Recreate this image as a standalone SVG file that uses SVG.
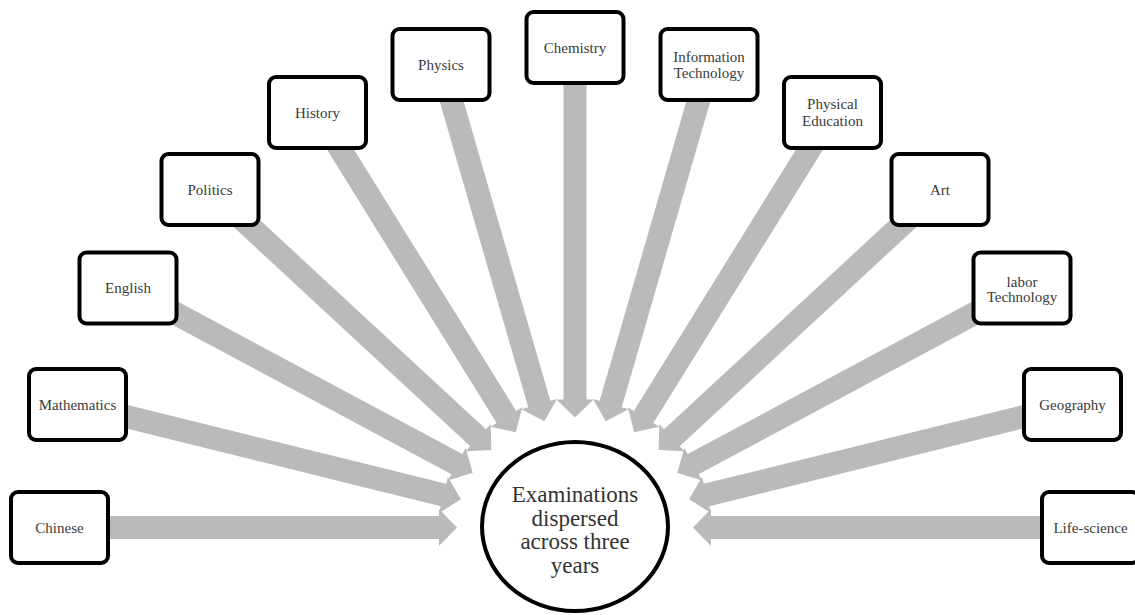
<svg xmlns="http://www.w3.org/2000/svg" width="1135" height="615" viewBox="0 0 1135 615">
  <style>
    .arrow { fill: #bababa; }
    .box { fill: #ffffff; stroke: #000000; stroke-width: 4; }
    .lbl { font-family: 'Liberation Serif', 'Times New Roman', Times, 'DejaVu Serif', serif; font-size: 15px; fill: #3a3a3a; text-anchor: middle; }
    .hub { fill: #ffffff; stroke: #000000; stroke-width: 4; }
    .hubtxt { font-family: 'Liberation Serif', 'Times New Roman', Times, 'DejaVu Serif', serif; font-size: 23px; fill: #333333; text-anchor: middle; }
  </style>
  <rect width="1135" height="615" fill="#ffffff"/>

  <!-- block arrows from each subject toward the centre -->
  <g id="connectors">
    <polygon class="arrow" transform="translate(59.5,527.5) rotate(0)" points="0,-11.5 379.5,-11.5 379.5,-18.5 397.5,0 379.5,18.5 379.5,11.5 0,11.5"/>
    <polygon class="arrow" transform="translate(77.5,404.5) rotate(13.89)" points="0,-11.5 377,-11.5 377,-18.5 395,0 377,18.5 377,11.5 0,11.5"/>
    <polygon class="arrow" transform="translate(128,288) rotate(28.18)" points="0,-11.5 373.1,-11.5 373.1,-18.5 391.1,0 373.1,18.5 373.1,11.5 0,11.5"/>
    <polygon class="arrow" transform="translate(210,189.5) rotate(42.8)" points="0,-11.5 365.4,-11.5 365.4,-18.5 383.4,0 365.4,18.5 365.4,11.5 0,11.5"/>
    <polygon class="arrow" transform="translate(317.5,112.5) rotate(58.18)" points="0,-11.5 358.3,-11.5 358.3,-18.5 376.3,0 358.3,18.5 358.3,11.5 0,11.5"/>
    <polygon class="arrow" transform="translate(441,64.5) rotate(73.86)" points="0,-11.5 353.5,-11.5 353.5,-18.5 371.5,0 353.5,18.5 353.5,11.5 0,11.5"/>
    <polygon class="arrow" transform="translate(575,47.5) rotate(90)" points="0,-11.5 352,-11.5 352,-18.5 370,0 352,18.5 352,11.5 0,11.5"/>
    <polygon class="arrow" transform="translate(709,64.5) rotate(106.14)" points="0,-11.5 353.5,-11.5 353.5,-18.5 371.5,0 353.5,18.5 353.5,11.5 0,11.5"/>
    <polygon class="arrow" transform="translate(832.5,112.5) rotate(121.82)" points="0,-11.5 358.3,-11.5 358.3,-18.5 376.3,0 358.3,18.5 358.3,11.5 0,11.5"/>
    <polygon class="arrow" transform="translate(940,189.5) rotate(137.2)" points="0,-11.5 365.4,-11.5 365.4,-18.5 383.4,0 365.4,18.5 365.4,11.5 0,11.5"/>
    <polygon class="arrow" transform="translate(1022,288) rotate(151.82)" points="0,-11.5 373.1,-11.5 373.1,-18.5 391.1,0 373.1,18.5 373.1,11.5 0,11.5"/>
    <polygon class="arrow" transform="translate(1072.5,404.5) rotate(166.11)" points="0,-11.5 377,-11.5 377,-18.5 395,0 377,18.5 377,11.5 0,11.5"/>
    <polygon class="arrow" transform="translate(1090.5,527.5) rotate(180)" points="0,-11.5 379.5,-11.5 379.5,-18.5 397.5,0 379.5,18.5 379.5,11.5 0,11.5"/>
  </g>

  <!-- central hub -->
  <g id="hub">
    <ellipse class="hub" cx="575" cy="526.5" rx="93" ry="84.5"/>
    <text class="hubtxt" x="575" y="502">Examinations</text>
    <text class="hubtxt" x="575" y="525.5">dispersed</text>
    <text class="hubtxt" x="575" y="549">across three</text>
    <text class="hubtxt" x="575" y="572.5">years</text>
  </g>

  <!-- subject boxes (101 x 75 outer) -->
  <g id="chinese">
    <rect class="box" x="11" y="492" width="97" height="71" rx="7"/>
    <text class="lbl" x="59.5" y="532.5">Chinese</text>
  </g>
  <g id="mathematics">
    <rect class="box" x="29" y="369" width="97" height="71" rx="7"/>
    <text class="lbl" x="77.5" y="409.5">Mathematics</text>
  </g>
  <g id="english">
    <rect class="box" x="79.5" y="252.5" width="97" height="71" rx="7"/>
    <text class="lbl" x="128" y="293">English</text>
  </g>
  <g id="politics">
    <rect class="box" x="161.5" y="154" width="97" height="71" rx="7"/>
    <text class="lbl" x="210" y="194.5">Politics</text>
  </g>
  <g id="history">
    <rect class="box" x="269" y="77" width="97" height="71" rx="7"/>
    <text class="lbl" x="317.5" y="117.5">History</text>
  </g>
  <g id="physics">
    <rect class="box" x="392.5" y="29" width="97" height="71" rx="7"/>
    <text class="lbl" x="441" y="69.5">Physics</text>
  </g>
  <g id="chemistry">
    <rect class="box" x="526.5" y="12" width="97" height="71" rx="7"/>
    <text class="lbl" x="575" y="52.5">Chemistry</text>
  </g>
  <g id="information-technology">
    <rect class="box" x="660.5" y="29" width="97" height="71" rx="7"/>
    <text class="lbl" x="709" y="62">Information</text>
    <text class="lbl" x="709" y="78">Technology</text>
  </g>
  <g id="physical-education">
    <rect class="box" x="784" y="77" width="97" height="71" rx="7"/>
    <text class="lbl" x="832.5" y="109">Physical</text>
    <text class="lbl" x="832.5" y="125.5">Education</text>
  </g>
  <g id="art">
    <rect class="box" x="891.5" y="154" width="97" height="71" rx="7"/>
    <text class="lbl" x="940" y="194.5">Art</text>
  </g>
  <g id="labor-technology">
    <rect class="box" x="973.5" y="252.5" width="97" height="71" rx="7"/>
    <text class="lbl" x="1022" y="286.5">labor</text>
    <text class="lbl" x="1022" y="302">Technology</text>
  </g>
  <g id="geography">
    <rect class="box" x="1024" y="369" width="97" height="71" rx="7"/>
    <text class="lbl" x="1072.5" y="409.5">Geography</text>
  </g>
  <g id="life-science">
    <rect class="box" x="1042" y="492" width="97" height="71" rx="7"/>
    <text class="lbl" x="1090.5" y="532.5">Life-science</text>
  </g>
</svg>
